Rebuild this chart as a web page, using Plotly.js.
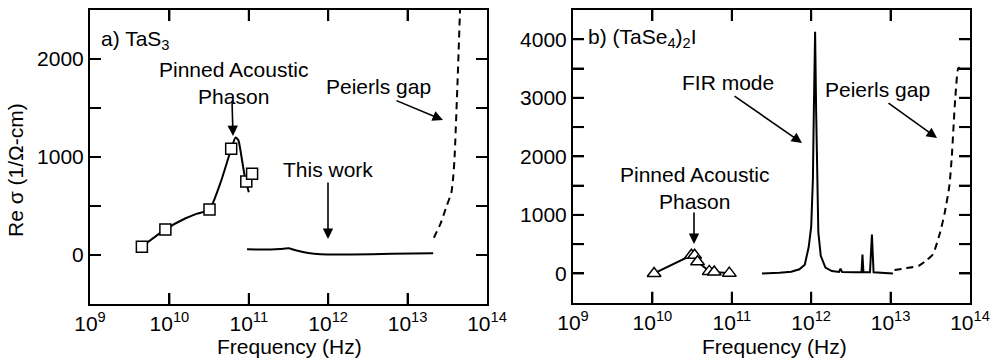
<!DOCTYPE html>
<html><head><meta charset="utf-8">
<script src="https://cdn.plot.ly/plotly-3.0.1.min.js"></script>
<style>body{margin:0;background:#fff}#c{width:996px;height:359px;position:relative}#tickov{position:absolute;left:0;top:0;pointer-events:none;z-index:10}</style></head>
<body><div id="c"></div>
<script>
// ---- Panel a) TaS3 ----
const tas3SqFreq = [4.5e9, 8.9e9, 3.2e10, 6.0e10, 9.3e10, 1.1e11];
const tas3SqSig  = [85, 261, 464, 1083, 751, 829];
const tas3FitFreq = [4.5e9, 8.9e9, 1.6e10, 2.2e10, 3.2e10, 4.5e10, 6.0e10, 6.8e10, 7.4e10, 8.1e10, 8.9e10, 1.0e11];
const tas3FitSig  = [85, 261, 375, 420, 464, 760, 1083, 1200, 1170, 1000, 800, 640];
const tas3WorkFreq = [9.5e10, 1.6e11, 2.5e11, 3.2e11, 4.0e11, 5.6e11, 8.0e11, 2.0e12, 6.3e12, 2.1e13];
const tas3WorkSig  = [58, 55, 62, 68, 45, 20, 7, 5, 12, 17];
const tas3GapFreq = [2.14e13, 2.63e13, 3.09e13, 3.55e13, 3.72e13, 3.89e13, 4.27e13, 4.57e13];
const tas3GapSig  = [176, 330, 497, 633, 760, 970, 1800, 2500];

// ---- Panel b) (TaSe4)2I ----
const tsiTriFreq = [1.05e10, 3.1e10, 3.4e10, 3.7e10, 5.2e10, 6.0e10, 9.3e10];
const tsiTriSig  = [0, 310, 310, 200, 35, 25, 5];
const tsiFirFreq = [2.4e11, 4.0e11, 5.6e11, 7.1e11, 8.3e11, 9.3e11, 1.0e12, 1.05e12, 1.08e12, 1.12e12, 1.153e12, 1.19e12, 1.23e12, 1.32e12, 1.51e12, 1.82e12, 2.24e12, 2.34e12, 2.45e12, 3.5e12, 4.3e12, 4.42e12, 4.55e12, 5.5e12, 5.82e12, 6.1e12, 7.9e12, 1.07e13];
const tsiFirSig  = [0, 10, 30, 70, 150, 450, 800, 1600, 2800, 4130, 2800, 1600, 700, 300, 100, 40, 25, 80, 25, 20, 20, 324, 20, 20, 664, 20, 5, 0];
const tsiGapFreq = [1.12e13, 1.58e13, 2.3e13, 2.8e13, 3.4e13, 4.2e13, 4.8e13, 5.5e13, 5.9e13, 6.5e13, 7.1e13, 7.4e13];
const tsiGapSig  = [57, 90, 136, 220, 324, 700, 1034, 1500, 2000, 2965, 3504, 3520];

const decadeVals = [1e9, 1e10, 1e11, 1e12, 1e13, 1e14];
const decadeText = ['10<sup>9</sup>', '10<sup>10</sup>', '10<sup>11</sup>', '10<sup>12</sup>', '10<sup>13</sup>', '10<sup>14</sup>'];

const FONT = {family: '"Liberation Sans", Arial, sans-serif', size: 21, color: '#000'};
const K = '#000';

const traces = [
  {x: tas3FitFreq, y: tas3FitSig, mode: 'lines', line: {color: K, width: 2, shape: 'spline', smoothing: 0.5}, xaxis: 'x', yaxis: 'y'},
  {x: tas3SqFreq, y: tas3SqSig, mode: 'markers', marker: {symbol: 'square', size: 11, color: '#fff', line: {color: K, width: 1.5}}, xaxis: 'x', yaxis: 'y'},
  {x: tas3WorkFreq, y: tas3WorkSig, mode: 'lines', line: {color: K, width: 2, shape: 'spline', smoothing: 0.6}, xaxis: 'x', yaxis: 'y'},
  {x: tas3GapFreq, y: tas3GapSig, mode: 'lines', line: {color: K, width: 2, dash: '7px,5px', shape: 'spline', smoothing: 0.6}, xaxis: 'x', yaxis: 'y'},
  {x: tsiTriFreq, y: tsiTriSig, mode: 'lines+markers', line: {color: K, width: 2}, marker: {symbol: 'triangle-up', size: 12, color: '#fff', line: {color: K, width: 1.5}}, xaxis: 'x2', yaxis: 'y2'},
  {x: tsiFirFreq, y: tsiFirSig, mode: 'lines', line: {color: K, width: 2}, xaxis: 'x2', yaxis: 'y2'},
  {x: tsiGapFreq, y: tsiGapSig, mode: 'lines', line: {color: K, width: 2, dash: '7px,5px', shape: 'spline', smoothing: 0.6}, xaxis: 'x2', yaxis: 'y2'}
];

const W = 996, ML = 90, MR = 26, MT = 10, MB = 55;
const PW = W - ML - MR, PH = 359 - MT - MB;
const px = v => (v - ML) / PW;
const py = v => (359 - MB - v) / PH;
const XR = [9, 14];
const Y1 = [-500, 2500], Y2 = [-500, 4500];
const TL = 11;

function xAx(dom, anchor) {
  return {type: 'log', range: XR, domain: dom, anchor: anchor, tickvals: decadeVals, ticktext: decadeText,
    ticks: 'inside', ticklen: TL, tickwidth: 2, tickcolor: K, showline: true, linecolor: K, linewidth: 2,
    mirror: 'allticks', showgrid: false, zeroline: false, tickfont: FONT};
}
function yAx(range, dom, anchor) {
  return {range: range, dtick: 1000, domain: dom, anchor: anchor,
    ticks: 'inside', ticklen: TL, tickwidth: 2, tickcolor: K,
    minor: {dtick: 500, ticks: 'inside', ticklen: TL, tickwidth: 2, tickcolor: K},
    showline: true, linecolor: K, linewidth: 2, mirror: 'allticks', showgrid: false, zeroline: false,
    tickfont: FONT};
}

const layout = {
  width: 996, height: 359, showlegend: false,
  margin: {l: ML, r: MR, t: MT, b: MB},
  xaxis: xAx([0, px(487)], 'y'),
  yaxis: yAx(Y1, [0, 1], 'x'),
  xaxis2: xAx([px(573), 1], 'y2'),
  yaxis2: yAx(Y2, [py(302.7), 1], 'x2'),
  annotations: []
};

function txt(t, x, y, anchor, angle) {
  layout.annotations.push({text: t, xref: 'paper', yref: 'paper', x: px(x), y: py(y),
    xanchor: anchor || 'center', yanchor: 'middle', showarrow: false, font: FONT, textangle: angle || 0});
}
function arrow(tx, ty, hx, hy) {
  layout.annotations.push({text: '', xref: 'paper', yref: 'paper', x: px(hx), y: py(hy),
    ax: tx - hx, ay: ty - hy, showarrow: true, arrowhead: 2, arrowsize: 1.3, arrowwidth: 1.6,
    arrowcolor: K, standoff: 0, startstandoff: 0});
}

txt('Re σ (1/Ω-cm)', 16, 170, 'center', -90);
txt('Frequency (Hz)', 289, 346);
txt('Frequency (Hz)', 774, 346);

txt('a) TaS<sub>3</sub>', 99, 40, 'left');
txt('Pinned Acoustic<br>Phason', 233, 83);
arrow(232, 100, 233, 136);
txt('Peierls gap', 378, 87);
arrow(395, 100, 443, 120);
txt('This work', 328, 170);
arrow(328, 181, 328, 239);

txt('b) (TaSe<sub>4</sub>)<sub>2</sub>I', 586, 38, 'left');
txt('FIR mode', 728, 82);
arrow(733, 95, 802, 143);
txt('Peierls gap', 877, 90);
arrow(887, 102, 937, 138);
txt('Pinned Acoustic<br>Phason', 694, 188);
arrow(694, 211, 694, 244);

const gd = document.getElementById('c');

// Inside tick marks on all four sides, placed with the axes' own scales (l2p)
function drawTickOverlay() {
  const fl = gd._fullLayout;
  if (!fl || !fl.xaxis || !fl.xaxis._length) return;
  const NS = 'http://www.w3.org/2000/svg';
  const old = document.getElementById('tickov');
  if (old) old.remove();
  const svg = document.createElementNS(NS, 'svg');
  svg.setAttribute('id', 'tickov');
  svg.setAttribute('width', W);
  svg.setAttribute('height', 359);
  const seg = (a, b, c, d) => {
    const l = document.createElementNS(NS, 'line');
    l.setAttribute('x1', a); l.setAttribute('y1', b); l.setAttribute('x2', c); l.setAttribute('y2', d);
    l.setAttribute('stroke', K); l.setAttribute('stroke-width', 2);
    svg.appendChild(l);
  };
  [['xaxis', 'yaxis', Y1], ['xaxis2', 'yaxis2', Y2]].forEach(([xn, yn, yr]) => {
    const xa = fl[xn], ya = fl[yn];
    const xl = xa._offset, xr = xa._offset + xa._length;
    const yt = ya._offset, yb = ya._offset + ya._length;
    decadeVals.slice(1, -1).forEach(v => {
      const X = xa._offset + xa.l2p(Math.log10(v));
      seg(X, yb, X, yb - TL);
      seg(X, yt, X, yt + TL);
    });
    for (let v = yr[0] + 500; v < yr[1]; v += 500) {
      const Y = ya._offset + ya.l2p(v);
      seg(xl, Y, xl + TL, Y);
      seg(xr, Y, xr - TL, Y);
    }
  });
  gd.appendChild(svg);
}

const p = Plotly.newPlot('c', traces, layout, {staticPlot: true});
drawTickOverlay();
if (p && p.then) p.then(drawTickOverlay);
setTimeout(drawTickOverlay, 50);
</script>
</body></html>
